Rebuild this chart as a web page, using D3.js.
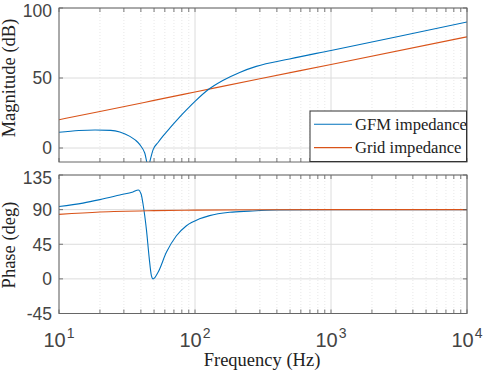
<!DOCTYPE html>
<html><head><meta charset="utf-8">
<script src="https://cdn.jsdelivr.net/npm/d3@7"></script>
<style>body{margin:0;background:#fff}svg{display:block}</style>
</head><body>
<svg id="c" width="484" height="371"></svg>
<script>
// ---- data ----
const gfmMagFreq = [10, 14, 18.4, 24, 28, 33.2, 36.5, 39.3, 42.7, 45.4, 47.3, 49.2, 53.5, 58.3, 65, 73, 81.7, 91, 100, 124, 160, 213, 282, 495, 1000, 3000, 10000];
const gfmMagDb   = [11.2, 12.5, 12.9, 12.6, 11.4, 8.3, 5.6, 2.4, -3.6, -13, -7, -1.2, 3.9, 8.6, 14.0, 19.5, 24.7, 29.4, 33.3, 41.4, 48.2, 54.0, 58.3, 63.6, 69.7, 79.3, 90];
const gfmPhaseFreq = [10, 15, 20, 28, 35, 38.3, 40.2, 41.5, 44, 46, 47.8, 49.2, 53.5, 61.6, 73, 86.5, 108, 128, 180, 250, 400, 1000, 10000];
const gfmPhaseDeg  = [94, 98.5, 103, 109, 113, 115.6, 110, 97, 63, 28, 4.3, 0, 8.6, 34.5, 56, 69, 78, 82.2, 86.5, 88, 89.5, 90, 90];
const gridFreq     = [10, 20, 50, 100, 300, 1000, 10000];
const gridMagDb    = [20.2, 26.1, 34, 40, 49.5, 59.6, 79.4];
const gridPhaseDeg = [83.8, 86.9, 88.7, 89.4, 89.8, 90, 90];
const xTickExps  = [1, 2, 3, 4];
const magTicks   = [0, 50, 100];
const phaseTicks = [-45, 0, 45, 90, 135];
const seriesNames = ["GFM impedance", "Grid impedance"];
const colors = ["#0072BD", "#D95319"];

const svg = d3.select("#c");
const L = 59, R = 467;
const x = d3.scaleLog().domain([10, 10000]).range([L, R]);
const yMag = d3.scaleLinear().domain([-10, 100]).range([162, 8]);
const yPh = d3.scaleLinear().domain([-45, 135]).range([313.5, 175]);

const minorTicks = [];
for (let e = 1; e < 4; e++) for (let k = 2; k <= 9; k++) minorTicks.push(k * Math.pow(10, e));
const majorTicks = xTickExps.map(e => Math.pow(10, e));

function panel(y, yTicks, id) {
  const [y0, y1] = y.range(); // bottom, top
  const g = svg.append("g");
  g.append("rect").attr("x", L).attr("y", y1).attr("width", R - L).attr("height", y0 - y1).attr("fill", "#fff");
  g.selectAll(null).data(minorTicks).enter().append("line")
    .attr("x1", d => x(d)).attr("x2", d => x(d)).attr("y1", y1).attr("y2", y0)
    .attr("stroke", "#d6d6d6").attr("stroke-width", 0.6).attr("stroke-dasharray", "1,2");
  g.selectAll(null).data(majorTicks).enter().append("line")
    .attr("x1", d => x(d)).attr("x2", d => x(d)).attr("y1", y1).attr("y2", y0)
    .attr("stroke", "#dcdcdc").attr("stroke-width", 1);
  g.selectAll(null).data(yTicks).enter().append("line")
    .attr("x1", L).attr("x2", R).attr("y1", d => y(d)).attr("y2", d => y(d))
    .attr("stroke", "#dcdcdc").attr("stroke-width", 1);
  svg.append("clipPath").attr("id", id).append("rect")
    .attr("x", L).attr("y", y1).attr("width", R - L).attr("height", y0 - y1);
  return g;
}
function frame(y, yTicks) {
  const [y0, y1] = y.range();
  const g = svg.append("g");
  const tk = "#555";
  [...majorTicks, ...minorTicks].forEach(d => {
    const len = 4;
    g.append("line").attr("x1", x(d)).attr("x2", x(d)).attr("y1", y0).attr("y2", y0 - len).attr("stroke", tk).attr("stroke-width", 0.8);
    g.append("line").attr("x1", x(d)).attr("x2", x(d)).attr("y1", y1).attr("y2", y1 + len).attr("stroke", tk).attr("stroke-width", 0.8);
  });
  yTicks.forEach(d => {
    g.append("line").attr("x1", L).attr("x2", L + 4).attr("y1", y(d)).attr("y2", y(d)).attr("stroke", tk).attr("stroke-width", 0.8);
    g.append("line").attr("x1", R).attr("x2", R - 4).attr("y1", y(d)).attr("y2", y(d)).attr("stroke", tk).attr("stroke-width", 0.8);
  });
  g.append("rect").attr("x", L).attr("y", y1).attr("width", R - L).attr("height", y0 - y1)
    .attr("fill", "none").attr("stroke", "#666").attr("stroke-width", 1);
  g.selectAll(null).data(yTicks).enter().append("text")
    .attr("x", L - 7).attr("y", d => Math.max(y(d), y1 + 3)).attr("dy", "0.36em")
    .attr("text-anchor", "end").attr("font-family", "Liberation Sans, Arial, sans-serif")
    .attr("font-size", 17.5).attr("fill", "#444").text(d => d);
}

panel(yMag, magTicks, "clipTop");
panel(yPh, phaseTicks, "clipBot");

const line = (xs, ys, yS) => d3.line().x((d, i) => x(xs[i])).y((d, i) => yS(ys[i])).curve(d3.curveMonotoneX)(ys);

svg.append("path").attr("d", line(gridFreq, gridMagDb, yMag)).attr("clip-path", "url(#clipTop)")
  .attr("fill", "none").attr("stroke", colors[1]).attr("stroke-width", 1.1);
svg.append("path").attr("d", line(gfmMagFreq, gfmMagDb, yMag)).attr("clip-path", "url(#clipTop)")
  .attr("fill", "none").attr("stroke", colors[0]).attr("stroke-width", 1.1);
svg.append("path").attr("d", line(gfmPhaseFreq, gfmPhaseDeg, yPh)).attr("clip-path", "url(#clipBot)")
  .attr("fill", "none").attr("stroke", colors[0]).attr("stroke-width", 1.1);
svg.append("path").attr("d", line(gridFreq, gridPhaseDeg, yPh)).attr("clip-path", "url(#clipBot)")
  .attr("fill", "none").attr("stroke", colors[1]).attr("stroke-width", 1.1);

frame(yMag, magTicks);
frame(yPh, phaseTicks);

const xl = svg.append("g").attr("font-family", "Liberation Sans, Arial, sans-serif").attr("fill", "#444");
xTickExps.forEach(e => {
  const t = xl.append("text").attr("x", x(Math.pow(10, e))).attr("y", 347).attr("text-anchor", "middle");
  t.append("tspan").attr("font-size", 20).text("10");
  t.append("tspan").attr("font-size", 14).attr("dy", -9).attr("dx", 1).text(e);
});

const serif = "Liberation Serif, Times New Roman, serif";
svg.append("text").attr("transform", "translate(15,78) rotate(-90)").attr("text-anchor", "middle")
  .attr("font-family", serif).attr("font-size", 18.5).attr("fill", "#222").text("Magnitude (dB)");
svg.append("text").attr("transform", "translate(15,245) rotate(-90)").attr("text-anchor", "middle")
  .attr("font-family", serif).attr("font-size", 18.5).attr("fill", "#222").text("Phase (deg)");
svg.append("text").attr("x", 262).attr("y", 366).attr("text-anchor", "middle")
  .attr("font-family", serif).attr("font-size", 18.5).attr("fill", "#222").text("Frequency (Hz)");

const lg = svg.append("g");
lg.append("rect").attr("x", 310).attr("y", 111).attr("width", 156.5).attr("height", 50.5)
  .attr("fill", "#fff").attr("stroke", "#333").attr("stroke-width", 1);
seriesNames.forEach((n, i) => {
  const yy = 124.3 + i * 23.3;
  lg.append("line").attr("x1", 314).attr("x2", 352).attr("y1", yy).attr("y2", yy).attr("stroke", colors[i]).attr("stroke-width", 1.1);
  lg.append("text").attr("x", 355).attr("y", yy + 5.5).attr("font-family", serif).attr("font-size", 16.6).attr("fill", "#222").text(n);
});
</script>
</body></html>
